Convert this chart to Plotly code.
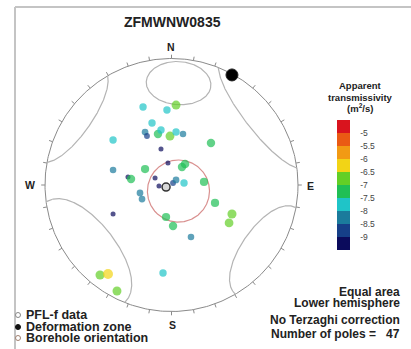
import numpy as np
import plotly.graph_objects as go

# PFL-f poles in equal-area lower hemisphere, x = east, y = north, primitive radius = 1
pole_x = [-0.225, -0.036, 0.036, -0.154, -0.462, -0.209, -0.194, -0.107, -0.083, -0.012,
          0.036, 0.091, 0.312, -0.083, -0.462, -0.209, -0.028, 0.083, 0.107, -0.344,
          -0.320, -0.130, -0.099, 0.012, 0.036, 0.099, 0.257, -0.249, -0.233, -0.462,
          0.344, -0.043, 0.012, 0.154, 0.478, 0.455, -0.565, -0.502, -0.431, -0.067]
pole_y = [0.617, 0.593, 0.632, 0.490, 0.356, 0.419, 0.387, 0.403, 0.435, 0.387,
          0.419, 0.403, 0.332, 0.285, 0.119, 0.126, 0.174, 0.142, 0.166, 0.063,
          0.047, 0.055, -0.008, 0.016, 0.040, 0.016, 0.024, -0.063, -0.111, -0.229,
          -0.142, -0.253, -0.324, -0.411, -0.229, -0.300, -0.711, -0.704, -0.838, -0.696]
# log10 apparent transmissivity (m2/s)
log_t = [-7.8, -7.8, -6.9, -7.8, -7.8, -8.2, -8.7, -7.2, -7.8, -6.9,
         -7.8, -8.3, -7.2, -9.2, -8.3, -7.3, -9.2, -7.2, -7.1, -9.2,
         -7.2, -9.2, -9.2, -8.7, -8.2, -7.8, -7.3, -8.2, -8.2, -9.2,
         -7.3, -7.3, -7.2, -8.3, -6.8, -7.0, -6.8, -6.3, -6.9, -7.8]

dz_x, dz_y = [0.478], [0.870]      # deformation zone pole
bh_x, bh_y = [-0.043], [-0.016]    # borehole orientation

# gray set cones (trend, plunge, cone angle) and the borehole cone
cone_trend = [232, 125, 4]
cone_plunge = [7, 4, 19.5]
cone_angle = [31, 25, 17]
red_cone = [131, 84, 20]

cb_ticks = [-9, -8.5, -8, -7.5, -7, -6.5, -6, -5.5, -5]
band_colors = ['#0b0b5c', '#163f88', '#1b7b9c', '#1fc4c8', '#20bf55',
               '#63cf26', '#f2d416', '#f29a14', '#ea5a14', '#d9141e']

W, H = 411, 349
CX, CY, R = 171.5, 185, 126.5


def small_circle(trend, plunge, angle, n=721):
    t, p, a = np.radians([trend, plunge, angle])
    axis = np.array([np.cos(p) * np.sin(t), np.cos(p) * np.cos(t), np.sin(p)])
    u = np.cross(axis, [0, 0, 1])
    if np.linalg.norm(u) < 1e-6:
        u = np.array([1.0, 0, 0])
    u = u / np.linalg.norm(u)
    w = np.cross(axis, u)
    th = np.linspace(0, 2 * np.pi, n)
    v = np.cos(a) * axis[:, None] + np.sin(a) * (np.outer(u, np.cos(th)) + np.outer(w, np.sin(th)))
    v[:, v[2] < 0] *= -1
    r = np.sqrt(np.clip(1 - v[2], 0, None))
    h = np.hypot(v[0], v[1]) + 1e-12
    x, y = r * v[0] / h, r * v[1] / h
    xs, ys = [x[0]], [y[0]]
    for i in range(1, n):
        if np.hypot(x[i] - x[i - 1], y[i] - y[i - 1]) > 0.3:
            xs.append(None)
            ys.append(None)
        xs.append(x[i])
        ys.append(y[i])
    return xs, ys


fig = go.Figure()

# primitive circle
th = np.linspace(0, 2 * np.pi, 361)
fig.add_trace(go.Scatter(x=np.cos(th), y=np.sin(th), mode='lines',
                         line=dict(color='#8a8a8a', width=1), hoverinfo='skip'))

# 10 degree ticks on the primitive
tx, ty = [], []
for az in range(0, 360, 10):
    a = np.radians(az)
    tx += [np.sin(a), 1.03 * np.sin(a), None]
    ty += [np.cos(a), 1.03 * np.cos(a), None]
fig.add_trace(go.Scatter(x=tx, y=ty, mode='lines', line=dict(color='#8a8a8a', width=1),
                         hoverinfo='skip'))

# set cones
for t, p, a in zip(cone_trend, cone_plunge, cone_angle):
    xs, ys = small_circle(t, p, a)
    fig.add_trace(go.Scatter(x=xs, y=ys, mode='lines', line=dict(color='#b4b4b4', width=1.2),
                             hoverinfo='skip'))

xs, ys = small_circle(*red_cone)
fig.add_trace(go.Scatter(x=xs, y=ys, mode='lines', line=dict(color='#d9908f', width=1.2),
                         hoverinfo='skip'))

# discrete colour scale from -9.5 to -4.5
cmin, cmax = -9.5, -4.5
cs = []
for i, c in enumerate(band_colors):
    cs.append([i / len(band_colors), c])
    cs.append([(i + 1) / len(band_colors), c])

sizes = [4.5 + (v + 9.5) * 1.7 for v in log_t]

fig.add_trace(go.Scatter(
    x=pole_x, y=pole_y, mode='markers',
    marker=dict(color=log_t, colorscale=cs, cmin=cmin, cmax=cmax, size=sizes,
                line=dict(width=0),
                colorbar=dict(thickness=13, len=130, lenmode='pixels', xpad=0, ypad=0,
                              x=337 / W, xanchor='left', y=1 - 185 / H, yanchor='middle',
                              outlinewidth=0, ticks='outside', ticklen=9,
                              tickcolor='rgba(0,0,0,0)', tickvals=cb_ticks,
                              ticktext=[f'{v:g}' for v in cb_ticks],
                              tickfont=dict(size=8.5, color='#444', family='Arial'))),
    hoverinfo='skip'))

fig.add_trace(go.Scatter(x=bh_x, y=bh_y, mode='markers',
                         marker=dict(color='#d8d8d8', size=8, line=dict(color='#333', width=1.5)),
                         hoverinfo='skip'))
fig.add_trace(go.Scatter(x=dz_x, y=dz_y, mode='markers',
                         marker=dict(color='#000', size=12, line=dict(color='#222', width=1)),
                         hoverinfo='skip'))


def px(x):
    return x / W


def py(y):
    return 1 - y / H


bold = dict(family='Arial, Liberation Sans', color='#222')
ann = []
ann.append(dict(x=px(172), y=py(22), text='<b>ZFMWNW0835</b>', font=dict(size=14, **bold)))
for lab, x, y in [('N', 171, 47), ('E', 310, 186), ('S', 172, 325), ('W', 30, 185)]:
    ann.append(dict(x=px(x), y=py(y), text=f'<b>{lab}</b>', font=dict(size=10.5, **bold)))
for txt, y in [('Apparent', 86), ('transmissivity', 97), ('(m<sup>2</sup>/s)', 108)]:
    ann.append(dict(x=px(360), y=py(y), text=f'<b>{txt}</b>', font=dict(size=9.5, **bold)))
for txt, y in [('Equal area', 292), ('Lower hemisphere', 303),
               ('No Terzaghi correction', 320), ('Number of poles =   47', 334)]:
    ann.append(dict(x=px(402), y=py(y), text=f'<b>{txt}</b>', xanchor='right',
                    font=dict(size=12, **bold)))
for txt, y in [('PFL-f data', 315), ('Deformation zone', 327), ('Borehole orientation', 338)]:
    ann.append(dict(x=px(24), y=py(y), text=f'<b>{txt}</b>', xanchor='left',
                    font=dict(size=12.5, **bold)))
for a in ann:
    a.update(xref='paper', yref='paper', showarrow=False, yanchor='middle')
    a.setdefault('xanchor', 'center')

shapes = [
    dict(type='line', xref='paper', yref='paper', x0=px(15), x1=1, y0=py(7), y1=py(7),
         line=dict(color='#c4c4c4', width=2)),
    dict(type='line', xref='paper', yref='paper', x0=px(15), x1=px(15), y0=py(7), y1=0,
         line=dict(color='#c4c4c4', width=2)),
]
# legend symbols
for y, fill, edge in [(315, 'white', '#888'), (327, '#111', '#111'), (338, 'white', '#a08070')]:
    shapes.append(dict(type='circle', xref='paper', yref='paper',
                       x0=px(15.5), x1=px(20.5), y0=py(y + 2.5), y1=py(y - 2.5),
                       fillcolor=fill, line=dict(color=edge, width=1)))

fig.update_layout(
    width=W, height=H, margin=dict(l=0, r=0, t=0, b=0),
    paper_bgcolor='white', plot_bgcolor='white', showlegend=False,
    xaxis=dict(range=[-CX / R, (W - CX) / R], visible=False, fixedrange=True),
    yaxis=dict(range=[-(H - CY) / R, CY / R], visible=False, fixedrange=True),
    annotations=ann, shapes=shapes,
)

fig.write_html("out.html", config={'displayModeBar': False},
               post_script="document.body.style.margin='0px';")
